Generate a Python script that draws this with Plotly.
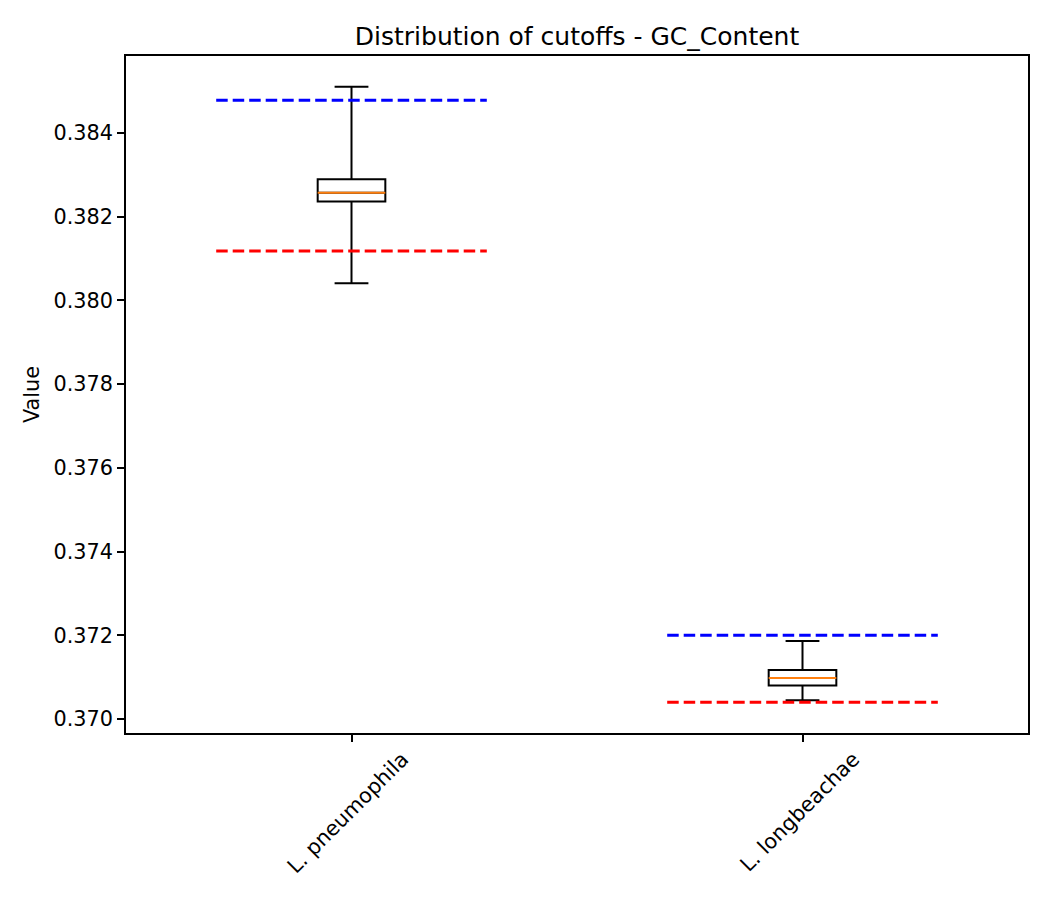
import plotly.graph_objects as go

categories = ["L. pneumophila", "L. longbeachae"]
positions = [1, 2]
q1 = [0.38236, 0.37080]
median = [0.38257, 0.37098]
q3 = [0.38289, 0.37117]
lower_whisker = [0.38041, 0.37045]
upper_whisker = [0.38510, 0.37186]
upper_cutoff = [0.38478, 0.37200]
lower_cutoff = [0.38118, 0.37040]
y_ticks = [0.370, 0.372, 0.374, 0.376, 0.378, 0.380, 0.382, 0.384]

box_width = 0.15
line_half = 0.3

fig = go.Figure()

for i, pos in enumerate(positions):
    fig.add_trace(go.Box(
        x=[pos], q1=[q1[i]], median=[median[i]], q3=[q3[i]],
        lowerfence=[lower_whisker[i]], upperfence=[upper_whisker[i]],
        width=box_width, whiskerwidth=0.5, boxpoints=False,
        fillcolor="white", line=dict(color="black", width=2),
        showlegend=False, hoverinfo="skip",
    ))
    fig.add_trace(go.Scatter(
        x=[pos - box_width / 2, pos + box_width / 2], y=[median[i], median[i]],
        mode="lines", line=dict(color="#ff7f0e", width=2),
        showlegend=False, hoverinfo="skip",
    ))
    fig.add_trace(go.Scatter(
        x=[pos - line_half, pos + line_half], y=[upper_cutoff[i], upper_cutoff[i]],
        mode="lines", line=dict(color="#0000ff", width=3, dash="11.5px,5px"),
        showlegend=False, hoverinfo="skip",
    ))
    fig.add_trace(go.Scatter(
        x=[pos - line_half, pos + line_half], y=[lower_cutoff[i], lower_cutoff[i]],
        mode="lines", line=dict(color="#ff0000", width=3, dash="11.5px,5px"),
        showlegend=False, hoverinfo="skip",
    ))

font_family = "DejaVu Sans"
fig.update_layout(
    width=1042, height=892,
    margin=dict(l=118, r=22, t=48, b=167),
    paper_bgcolor="white", plot_bgcolor="white",
    font=dict(family=font_family, color="black", size=20.8),
    title=dict(text="Distribution of cutoffs - GC_Content", x=(577 - 8) / 1042, xanchor="center",
               y=1 - 28 / 892, yanchor="middle",
               font=dict(size=25, family=font_family, color="black")),
    boxmode="overlay",
)
fig.update_xaxes(
    range=[0.5, 2.5], tickmode="array", tickvals=positions, ticktext=categories,
    tickangle=-45, ticks="outside", ticklen=7, tickwidth=1.6, tickcolor="black",
    showgrid=False, zeroline=False, showline=True, linecolor="black", linewidth=1.6,
    mirror=True, tickfont=dict(size=20.8, family=font_family, color="black"),
    ticklabelshift=51, ticklabelstandoff=-3,
)
fig.update_yaxes(
    range=[0.369665, 0.385835], tickmode="array", tickvals=y_ticks,
    ticktext=[f"{v:.3f}" for v in y_ticks],
    ticks="outside", ticklen=7, tickwidth=1.6, tickcolor="black",
    showgrid=False, zeroline=False, showline=True, linecolor="black", linewidth=1.6,
    mirror=True, tickfont=dict(size=20.8, family=font_family, color="black"),
    title=dict(text="Value", font=dict(size=20.8, family=font_family, color="black"), standoff=8),
)

fig.write_html("out.html")
